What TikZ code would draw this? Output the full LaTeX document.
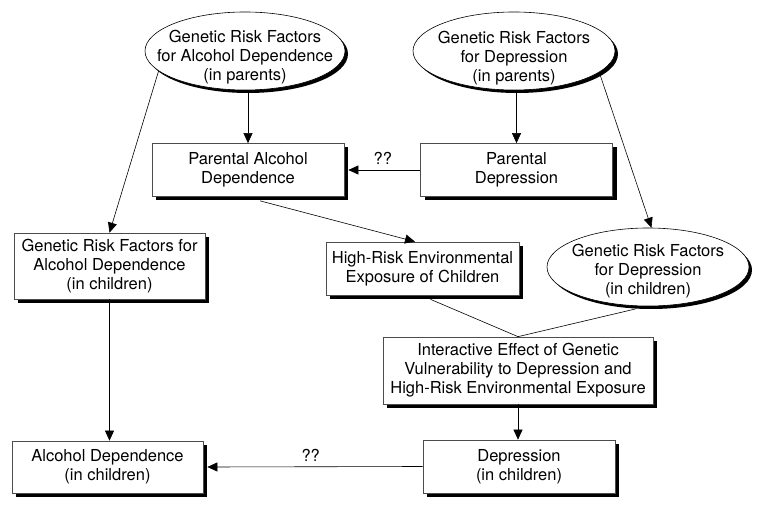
\documentclass[tikz,border=0pt]{standalone}
\usepackage{fontspec}
\setmainfont{TeX Gyre Heros}
\usetikzlibrary{arrows.meta,shadows,shapes.geometric,calc}
\begin{document}
\begin{tikzpicture}[x=1pt,y=-1pt,
  font=\fontsize{16.5}{19}\selectfont,
  boxnode/.style={draw=black!70,line width=0.7pt,fill=white,inner sep=0pt,align=center,
    minimum width=192pt,minimum height=53pt,
    drop shadow={shadow xshift=4pt,shadow yshift=-4pt,fill=black,opacity=1}},
  ellnode/.style={ellipse,draw=black,line width=0.6pt,fill=white,inner sep=0pt,
    minimum width=202pt,minimum height=78pt,
    drop shadow={shadow xshift=3pt,shadow yshift=-3pt,fill=black,opacity=1}},
  txt/.style={align=center,inner sep=0pt},
  arr/.style={line width=0.6pt,-{Triangle[length=10pt,width=9pt]}},
  conn/.style={line width=0.6pt},
  qq/.style={above=5pt,inner sep=0pt}
]
\path[use as bounding box] (0,0) rectangle (765,510);

% ellipses
\node[ellnode,minimum width=200pt] (e1) at (245,51) {};
\node[txt] (e1t) at (245,57) {Genetic Risk Factors\\for Alcohol Dependence\\(in parents)};
\node[ellnode] (e2) at (514,51) {};
\node[txt] (e2t) at (514,58) {Genetic Risk Factors\\for Depression\\(in parents)};
\node[ellnode] (e3) at (648,267) {};
\node[txt] (e3t) at (648,271) {Genetic Risk Factors\\for Depression\\(in children)};

% boxes
\node[boxnode] (pad) at (248,170) {Parental Alcohol\\Dependence};
\node[boxnode] (pd) at (516.5,170) {Parental\\Depression};
\node[boxnode,minimum width=193pt] (hr) at (422.5,268.5) {High-Risk Environmental\\Exposure of Children};
\node[boxnode,minimum width=191pt,minimum height=66pt] (gc) at (109.5,266) {Genetic Risk Factors for\\Alcohol Dependence\\(in children)};
\node[boxnode,minimum width=270pt,minimum height=67pt] (ie) at (518,370.5) {Interactive Effect of Genetic\\Vulnerability to Depression and\\High-Risk Environmental Exposure};
\node[boxnode,minimum width=191pt,minimum height=52pt] (ad) at (107.5,467) {Alcohol Dependence\\(in children)};
\node[boxnode] (dep) at (519,466.5) {Depression\\(in children)};

% connectors
\draw[arr] (e1.south -| pad.north) -- (pad.north);
\draw[arr] (e1.193) -- (gc.north);
\draw[arr] (e2.south -| pd.north) -- (pd.north);
\draw[arr] (e2.346) -- (e3.85);
\draw[arr] (pd.west) -- ([xshift=4pt]pad.east) node[qq,pos=0.52] (q1) {??};
\draw[arr] ([xshift=12pt,yshift=-4pt]pad.south) -- ([xshift=-7.5pt]hr.north);
\draw[conn] ([xshift=8pt,yshift=-4pt]hr.south) -- (ie.north);
\draw[conn] ([yshift=-3pt]e3.252) -- (ie.north);
\draw[arr] (ie.south) -- (ie.south |- dep.north);
\draw[arr] (gc.south) -- (gc.south |- ad.north);
\draw[arr] (dep.west) -- ([xshift=4pt]ad.east) node[qq,pos=0.52] (q2) {??};
\end{tikzpicture}
\end{document}
